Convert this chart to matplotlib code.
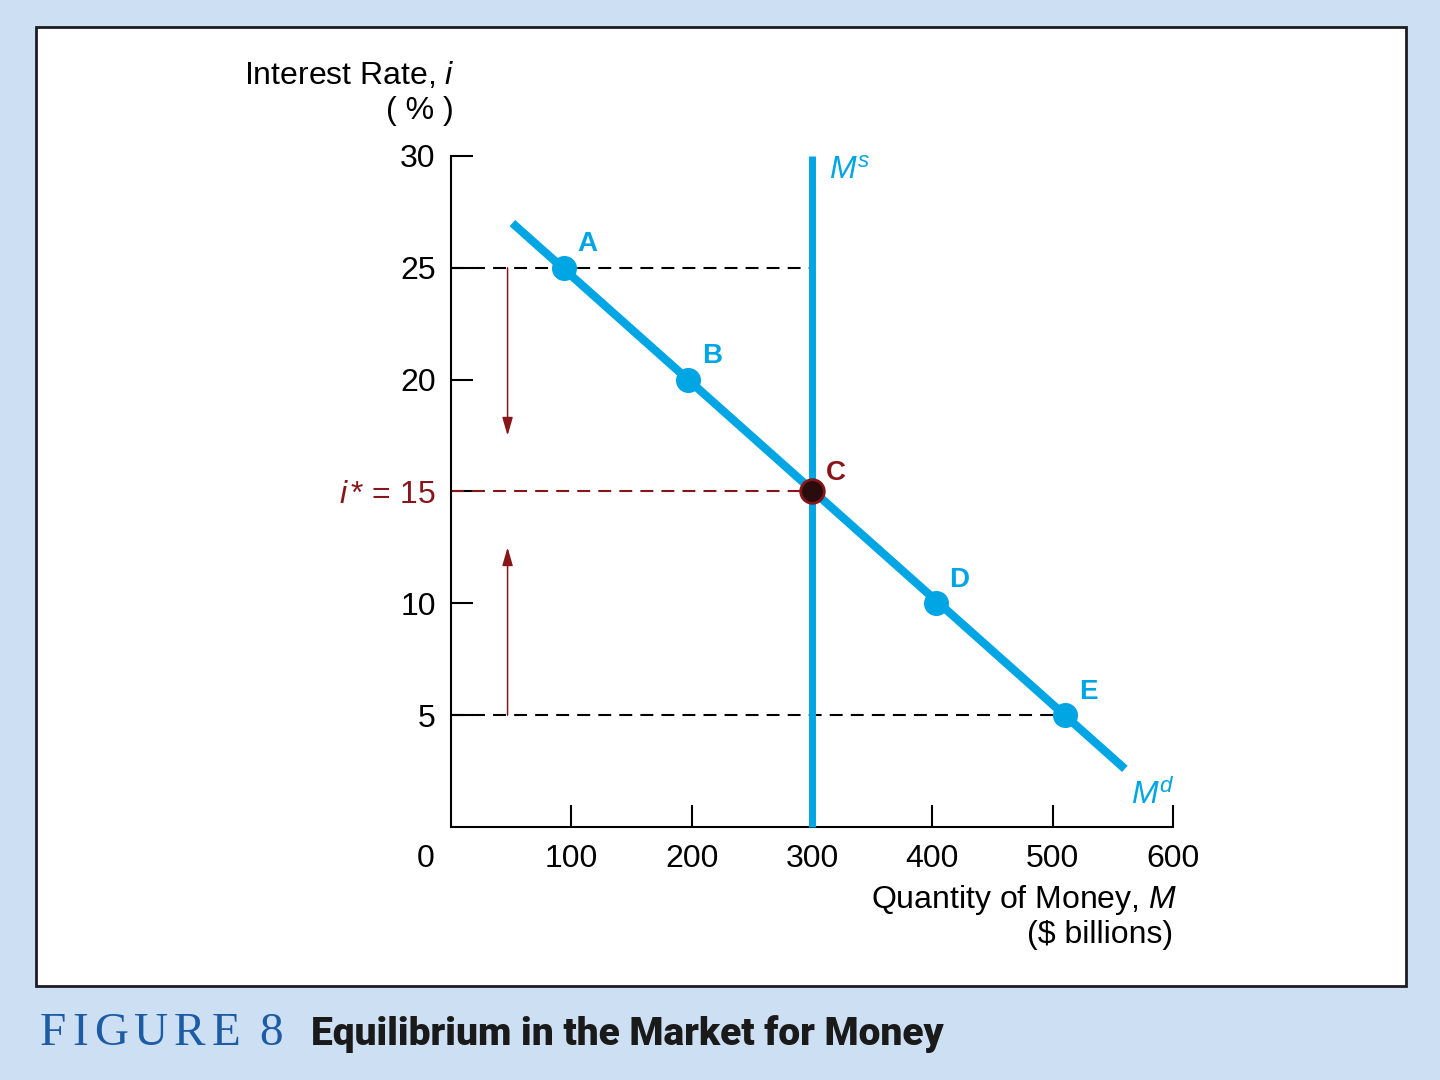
import matplotlib
matplotlib.use('Agg')
import matplotlib.pyplot as plt
from matplotlib.patches import Rectangle

plt.rcParams['font.family'] = ['Liberation Sans', 'DejaVu Sans']
plt.rcParams['mathtext.fontset'] = 'custom'
plt.rcParams['mathtext.rm'] = 'Liberation Sans'
plt.rcParams['mathtext.it'] = 'Liberation Sans:italic'
plt.rcParams['mathtext.bf'] = 'Liberation Sans:bold'

# points on the demand curve
point_names = ['A', 'B', 'C', 'D', 'E']
point_q = [94, 197, 300, 403, 510]
point_i = [25, 20, 15, 10, 5]
# ends of the drawn demand line
md_q = [51, 560]
md_i = [27.0, 2.6]
# money supply
ms_q = 300
ms_i = [0, 30]
i_star = 15
# excess supply / demand arrows (from, to)
arrow_q = 47
arrow_down = (25, 17.5)
arrow_up = (5, 12.5)

x_ticks = [100, 200, 300, 400, 500, 600]
y_ticks = [5, 10, 15, 20, 25, 30]
y_tick_labels = ['5', '10', '$i\\,$* = 15', '20', '25', '30']

BLUE = '#00a5e3'
RED = '#87161a'
BG = '#cddff2'
NAVY = '#1d5ca4'
FS = 23

fig = plt.figure(figsize=(14.4, 10.8), dpi=100, facecolor=BG)
panel = Rectangle((36 / 1440, 1 - 986 / 1080), 1370 / 1440, 959 / 1080,
                  transform=fig.transFigure, facecolor='white',
                  edgecolor='#1c1c24', lw=2, zorder=-1)
fig.patches.append(panel)

ax = fig.add_axes([451 / 1440, 1 - 827 / 1080, 722 / 1440, 671 / 1080])
ax.patch.set_alpha(0)
ax.set_xlim(0, 600)
ax.set_ylim(0, 30)
for s in ['top', 'right']:
    ax.spines[s].set_visible(False)
for s in ['left', 'bottom']:
    ax.spines[s].set_linewidth(1.5)
    ax.spines[s].set_color('black')

ax.set_xticks(x_ticks)
ax.set_yticks(y_ticks)
ax.set_yticklabels(y_tick_labels)
ax.tick_params(axis='both', direction='in', length=16, width=1.5,
               labelsize=FS, colors='black')
ax.tick_params(axis='y', pad=11)
ax.tick_params(axis='x', pad=12)
ax.get_yticklabels()[2].set_color(RED)
ax.annotate('0', (0, 0), xytext=(-18, -12), textcoords='offset points',
            ha='center', va='top', fontsize=FS, annotation_clip=False)

dash = (0, (6.2, 3.9))
# guide lines
ax.plot([0, ms_q], [point_i[0], point_i[0]], color='black', lw=1.5, ls=dash, zorder=2)
ax.plot([0, point_q[4]], [point_i[4], point_i[4]], color='black', lw=1.5, ls=dash, zorder=2)
ax.plot([0, ms_q], [i_star, i_star], color=RED, lw=1.5, ls=dash, zorder=2)

# arrows
for start, end in [arrow_down, arrow_up]:
    ax.annotate('', xy=(arrow_q, end), xytext=(arrow_q, start),
                arrowprops=dict(arrowstyle='-|>,head_length=1.1,head_width=0.32',
                                color=RED, lw=1.1, shrinkA=0, shrinkB=0))

# supply and demand
ax.plot([ms_q, ms_q], ms_i, color=BLUE, lw=5, solid_capstyle='butt', zorder=3,
        clip_on=False)
ax.plot(md_q, md_i, color=BLUE, lw=6, solid_capstyle='butt', zorder=4)

for name, q, i in zip(point_names, point_q, point_i):
    if name == 'C':
        ax.plot(q, i, 'o', ms=17, mfc='#2a0c0c', mec=RED, mew=2, zorder=6)
        col = RED
        off = (17, 13)
    else:
        ax.plot(q, i, 'o', ms=17, mfc=BLUE, mec=BLUE, zorder=5)
        col = BLUE
        off = (17, 17)
    ax.annotate(name, (q, i), xytext=off, textcoords='offset points',
                ha='center', va='center', fontsize=20, fontweight='bold',
                color=col)

ax.annotate('$M^s$', (ms_q, ms_i[1]), xytext=(27, -11), textcoords='offset points',
            ha='center', va='center', fontsize=FS, color=BLUE, annotation_clip=False)
ax.annotate('$M^d$', (md_q[1], md_i[1]), xytext=(20, -19), textcoords='offset points',
            ha='center', va='center', fontsize=FS, color=BLUE)

# axis titles
fig.text(455 / 1440, 1 - 75 / 1080, 'Interest Rate, $i$', ha='right', va='center',
         fontsize=FS)
fig.text(420 / 1440, 1 - 111 / 1080, '( % )', ha='center', va='center', fontsize=FS)
fig.text(1177 / 1440, 1 - 900 / 1080, 'Quantity of Money, $M$', ha='right',
         va='center', fontsize=FS)
fig.text(1173 / 1440, 1 - 935 / 1080, '(\\$ billions)', ha='right', va='center',
         fontsize=FS)

# caption, letter-spaced figure number
renderer = fig.canvas.get_renderer()
x = 40
for ch in 'FIGURE 8':
    if ch == ' ':
        x += 13
        continue
    t = fig.text(x / 1440, 1 - 1045 / 1080, ch, fontsize=34, family='Liberation Serif',
                 color=NAVY, ha='left', va='baseline')
    x += t.get_window_extent(renderer).width + 6
fig.text(311 / 1440, 1 - 1045 / 1080, 'Equilibrium in the Market for Money',
         fontsize=28, fontweight='heavy', family=['Roboto', 'DejaVu Sans'],
         color='#1a1a1a', ha='left', va='baseline')

fig.savefig('out.png', dpi=100, facecolor=BG)
